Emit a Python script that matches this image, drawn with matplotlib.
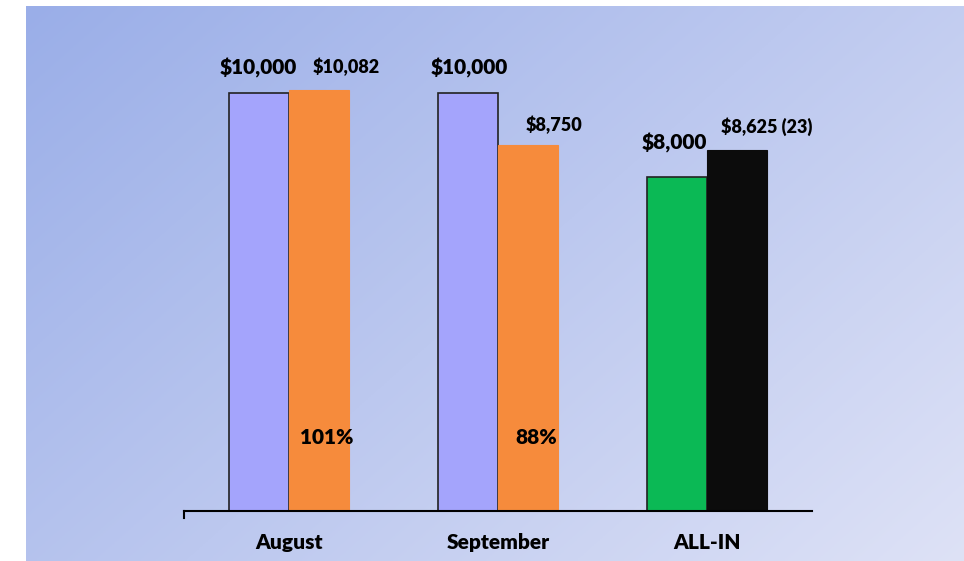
import numpy as np
import matplotlib.pyplot as plt

categories = ["August", "September", "ALL-IN"]
goal_values = [10000, 10000, 8000]
actual_values = [10082, 8750, 8625]
goal_labels = ["$10,000", "$10,000", "$8,000"]
actual_labels = ["$10,082", "$8,750", "$8,625 (23)"]
pct_labels = ["101%", "88%", None]

goal_colors = ["#a4a4fc", "#a4a4fc", "#0bb955"]
actual_colors = ["#f68b3c", "#f68b3c", "#0c0c0c"]

plt.rcParams['font.family'] = ['Lato', 'DejaVu Sans']

fig = plt.figure(figsize=(9.64, 5.61), dpi=100)
fig.patch.set_facecolor('white')

# fondo degradado
bg = fig.add_axes([26 / 964, 0, 1 - 26 / 964, 1 - 6 / 561])
h, w = 200, 340
yy, xx = np.mgrid[0:h, 0:w]
t = (xx / w * 0.6 + yy / h * 0.4)
c0 = np.array([154, 174, 232]) / 255
c1 = np.array([222, 226, 246]) / 255
img = c0[None, None, :] * (1 - t[..., None]) + c1[None, None, :] * t[..., None]
bg.imshow(img, aspect='auto', extent=[0, 1, 0, 1], origin='upper')
bg.axis('off')

ax = fig.add_axes([184 / 964, 1 - 511 / 561, (812 - 184) / 964, 470 / 561])
ax.patch.set_alpha(0)
ax.set_xlim(-0.5, 2.5)
ax.set_ylim(0, 10000 * 470 / 418)

x = np.arange(len(categories))
width = 0.287
ax.bar(x - width / 2, goal_values, width, color=goal_colors, edgecolor='#222222', linewidth=1.2)
ax.bar(x + width / 2, actual_values, width, color=actual_colors, edgecolor=actual_colors, linewidth=0.8)

# desplazamientos en pixeles (dx, dy) respecto al tope de cada barra
goal_off = [(0, 25), (1, 25), (-3, 34)]
actual_off = [(27, 23), (26, 20), (29, 24)]
actual_size = [13, 13, 13]
k = 0.72  # px -> pt

for i in range(len(categories)):
    ax.annotate(goal_labels[i], xy=(x[i] - width / 2, goal_values[i]),
                xytext=(goal_off[i][0] * k, goal_off[i][1] * k), textcoords='offset points',
                ha='center', va='center', fontsize=15, fontweight='heavy')
    ax.annotate(actual_labels[i], xy=(x[i] + width / 2, actual_values[i]),
                xytext=(actual_off[i][0] * k, actual_off[i][1] * k), textcoords='offset points',
                ha='center', va='center', fontsize=actual_size[i], fontweight='heavy')
    if pct_labels[i]:
        ax.annotate(pct_labels[i], xy=(x[i] + width / 2, 1770),
                    xytext=(8 * k, 0), textcoords='offset points',
                    ha='center', va='center', fontsize=15, fontweight='heavy')

ax.set_xticks(x)
ax.set_xticklabels(categories, fontsize=15, fontweight='heavy')
ax.tick_params(axis='x', length=0, pad=16)
ax.set_yticks([])
for s in ['top', 'right', 'left']:
    ax.spines[s].set_visible(False)
ax.spines['bottom'].set_linewidth(1.5)
ax.plot([-0.5, -0.5], [0, -170], color='black', lw=1.5, clip_on=False)

fig.savefig('out.png', dpi=100)
